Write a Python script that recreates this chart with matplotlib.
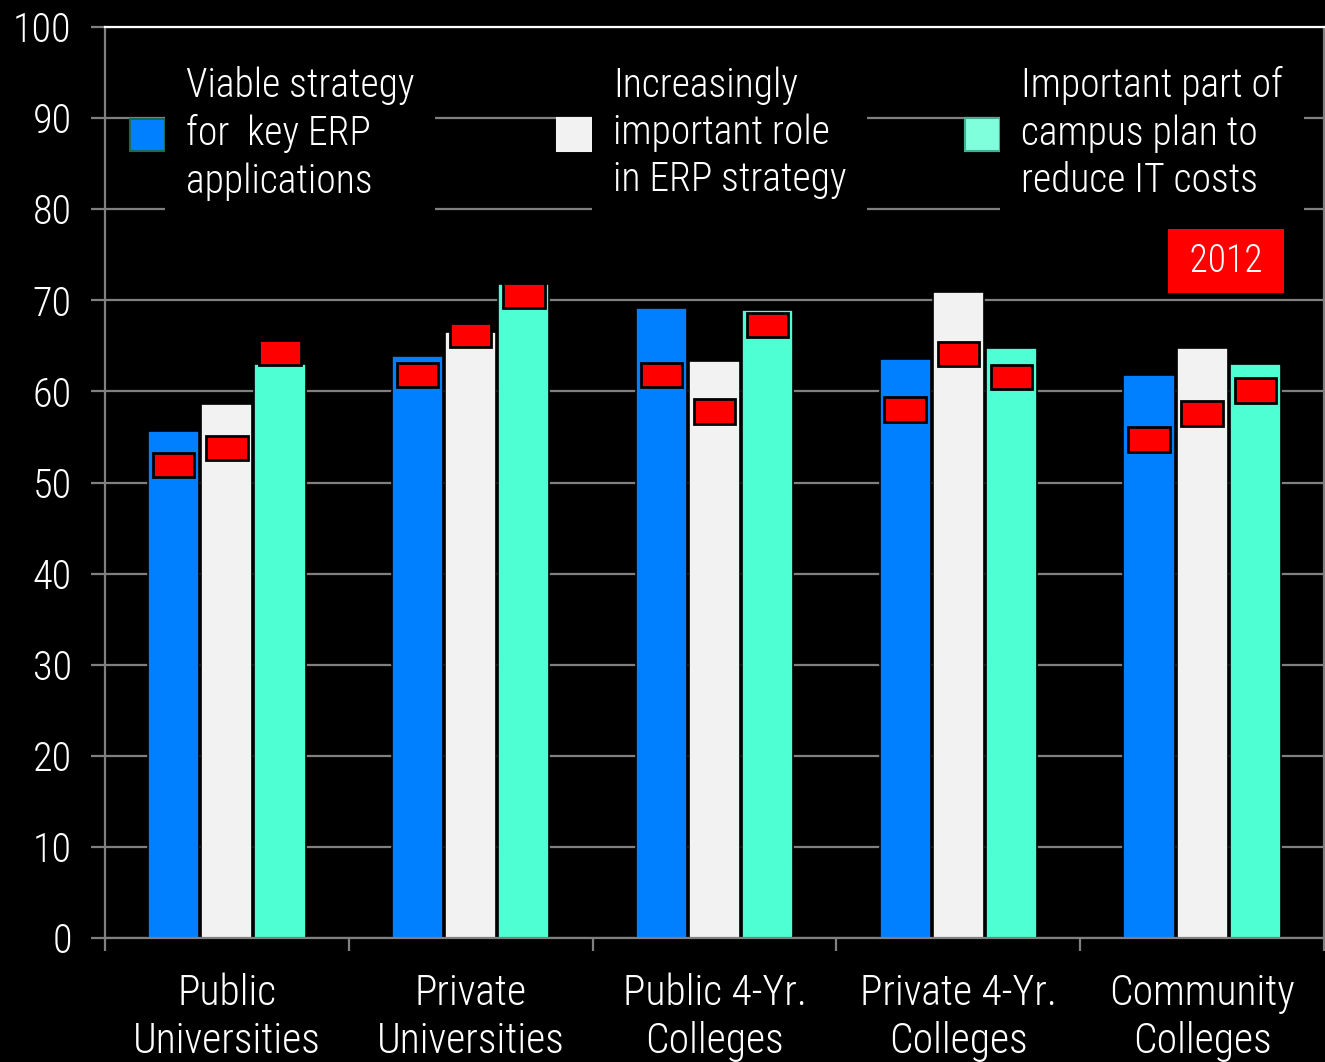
import matplotlib
matplotlib.use('Agg')
import matplotlib.pyplot as plt
from matplotlib.patches import Patch
import numpy as np

plt.rcParams['font.family'] = ['Roboto Condensed', 'DejaVu Sans']
plt.rcParams['font.weight'] = 'light'

# data (percent)
categories = ['Public\nUniversities', 'Private\nUniversities', 'Public 4-Yr.\nColleges',
              'Private 4-Yr.\nColleges', 'Community\nColleges']
series_names = ['Viable strategy\nfor  key ERP\napplications',
                'Increasingly\nimportant role\nin ERP strategy',
                'Important part of\ncampus plan to\nreduce IT costs']
viable = [55.7, 63.9, 69.2, 63.6, 61.8]
important_role = [58.6, 66.5, 63.3, 70.9, 64.8]
reduce_costs = [63.0, 71.8, 68.9, 64.8, 63.0]
# earlier-year markers (red boxes)
viable_prev = [51.9, 61.8, 61.8, 58.0, 54.7]
important_role_prev = [53.8, 66.2, 57.8, 64.1, 57.6]
reduce_costs_prev = [64.3, 70.5, 67.3, 61.6, 60.1]
year_label = '2012'

colors = ['#0080FF', '#F2F2F2', '#4DFFD2']
legend_colors = ['#0080FF', '#F2F2F2', '#80FFDD']
legend_edges = ['#1A6A5A', '#F2F2F2', '#40B090']
grid_col = '#808080'

fig = plt.figure(figsize=(13.25, 10.62), dpi=100, facecolor='black')
ax = fig.add_axes([105/1325, 1 - 938/1062, (1324 - 105)/1325, (938 - 27)/1062])
ax.set_facecolor('black')

x = np.arange(len(categories))
w = 0.21
step = 0.218
values = [viable, important_role, reduce_costs]
prevs = [viable_prev, important_role_prev, reduce_costs_prev]
for i, (vals, prev) in enumerate(zip(values, prevs)):
    off = (i - 1) * step
    ax.bar(x + off, vals, width=w, color=colors[i], edgecolor='black', linewidth=1.2, zorder=2)
    ax.bar(x + off, 2.7, bottom=np.array(prev) - 1.35, width=0.17, color='#FF0000',
           edgecolor='black', linewidth=2, zorder=3)

ax.set_xlim(-0.5, 4.5)
ax.set_ylim(0, 100)
ax.set_yticks(np.arange(0, 101, 10))
ax.yaxis.grid(True, color=grid_col, linewidth=1.6, zorder=0)
ax.set_axisbelow(True)

ax.set_xticks(x)
ax.set_xticklabels(categories, fontsize=30, color='white', linespacing=1.22)
ax.set_xticks(np.arange(-0.5, 4.6, 1), minor=True)
ax.tick_params(axis='x', which='major', length=0, pad=25)
ax.tick_params(axis='x', which='minor', length=9, width=1.6, color=grid_col)
ax.tick_params(axis='y', length=10, width=1.6, color=grid_col, labelsize=29,
               labelcolor='white', pad=14)

for s in ['left', 'bottom', 'right']:
    ax.spines[s].set_color(grid_col)
    ax.spines[s].set_linewidth(1.6)
ax.spines['top'].set_color('white')
ax.spines['top'].set_linewidth(1.6)

# three separate legend entries
anchors = [(130 - 105)/1219, (557 - 105)/1219, (965 - 105)/1219]
for i in range(3):
    h = Patch(facecolor=legend_colors[i], edgecolor=legend_edges[i], linewidth=1.5)
    leg = ax.legend([h], [series_names[i]], loc='upper left', bbox_to_anchor=(anchors[i], 0.957),
                    frameon=False, fontsize=28.5, handlelength=0.88, handleheight=0.88,
                    handletextpad=0.53, borderpad=0, borderaxespad=0, labelspacing=0)
    for t in leg.get_texts():
        t.set_color('white')
        t.set_linespacing(1.29)
        t.set_bbox(dict(facecolor='black', edgecolor='none', pad=15))
    leg.set_zorder(5)
    ax.add_artist(leg)

ax.text(0.9196, 0.743, ' ' + year_label + ' ', transform=ax.transAxes, fontsize=27, color='white',
        ha='center', va='center', zorder=6,
        bbox=dict(facecolor='#FF0000', edgecolor='none', boxstyle='square,pad=0.35'))

fig.savefig('out.png', dpi=100, facecolor='black')
